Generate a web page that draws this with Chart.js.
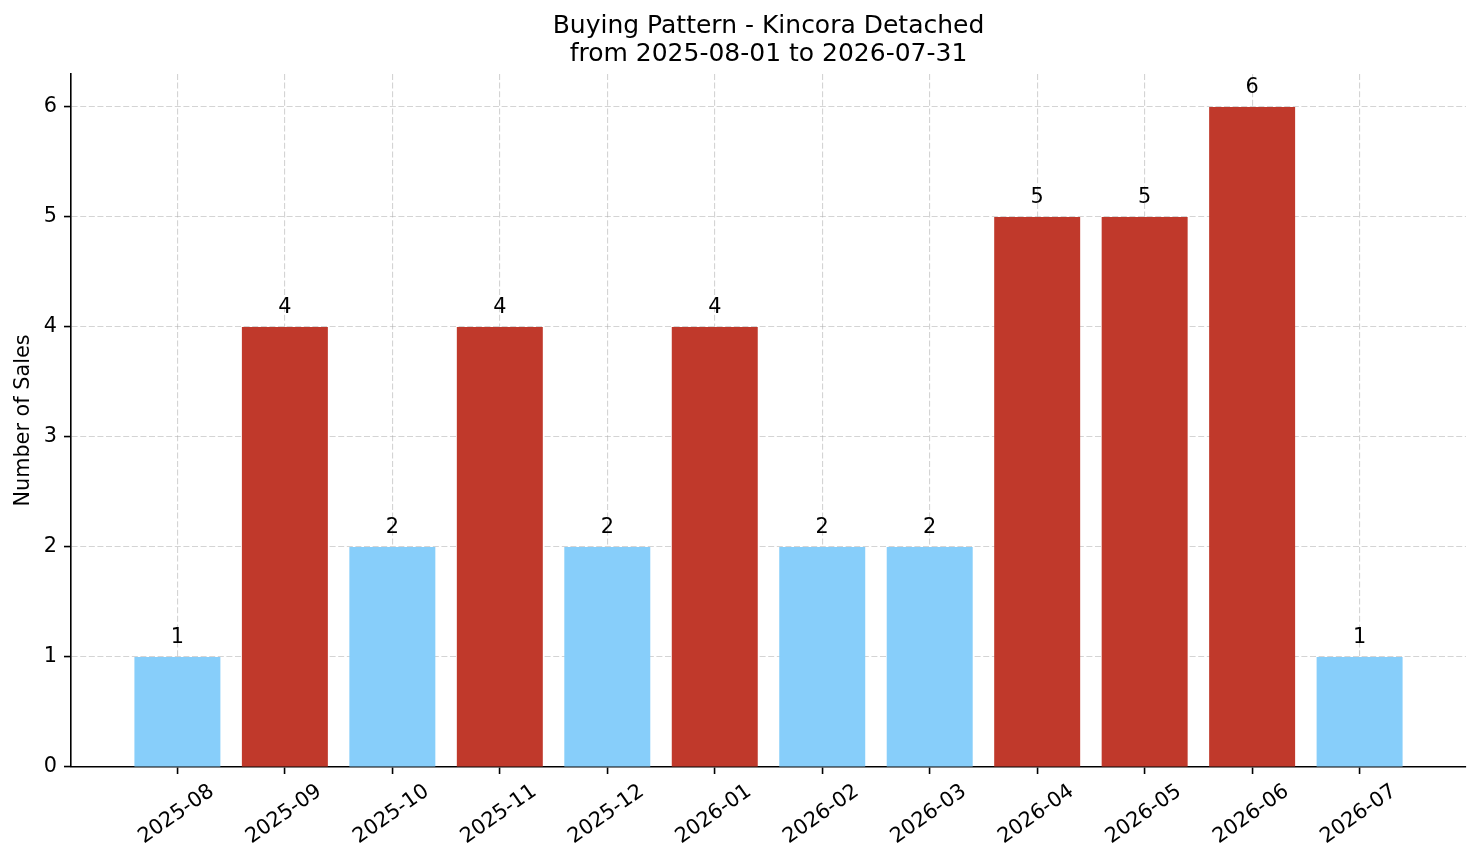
<!DOCTYPE html>
<html>
<head>
<meta charset="utf-8">
<title>Buying Pattern - Kincora Detached</title>
<script src="https://cdn.jsdelivr.net/npm/chart.js@4.4.1/dist/chart.umd.min.js"></script>
<style>
    html, body { margin: 0; padding: 0; background: #ffffff; }
    #wrap { width: 1481px; height: 863px; position: relative; }
</style>
</head>
<body>
<div id="wrap"><canvas id="grafica"></canvas></div>
<script>
// datos
const meses = ['2025-08', '2025-09', '2025-10', '2025-11', '2025-12', '2026-01',
               '2026-02', '2026-03', '2026-04', '2026-05', '2026-06', '2026-07'];
const ventas = [1, 4, 2, 4, 2, 4, 2, 2, 5, 5, 6, 1];
const ticksY = [0, 1, 2, 3, 4, 5, 6];

const titulo = ['Buying Pattern - Kincora Detached', 'from 2025-08-01 to 2026-07-31'];
const tituloY = 'Number of Sales';

const FUENTE = "'DejaVu Sans', Verdana, sans-serif";
const TAM = 20.8;
const ROJO = '#c0392b';
const AZUL = '#87cefa';
const GRIS_REJILLA = 'rgba(176,176,176,0.55)';

// por encima del promedio en rojo, el resto en azul
const promedio = ventas.reduce((a, b) => a + b, 0) / ventas.length;
const coloresBarras = ventas.map(v => v > promedio ? ROJO : AZUL);

// etiquetas de valor encima de cada barra
const etiquetasValor = {
    id: 'etiquetasValor',
    afterDraw(chart) {
        const ctx = chart.ctx;
        const meta = chart.getDatasetMeta(0);
        ctx.save();
        ctx.font = TAM + 'px ' + FUENTE;
        ctx.fillStyle = '#000';
        ctx.textAlign = 'center';
        ctx.textBaseline = 'alphabetic';
        meta.data.forEach((barra, i) => {
            ctx.fillText(String(ventas[i]), barra.x, barra.y - 14);
        });
        ctx.restore();
    }
};

// etiquetas del eje X giradas y centradas en su marca (como matplotlib)
const etiquetasX = {
    id: 'etiquetasX',
    afterDraw(chart) {
        const ctx = chart.ctx;
        const x = chart.scales.x;
        const ang = 35 * Math.PI / 180;
        ctx.save();
        ctx.font = TAM + 'px ' + FUENTE;
        ctx.fillStyle = '#000';
        ctx.textAlign = 'center';
        ctx.textBaseline = 'middle';
        meses.forEach((m, i) => {
            const L = ctx.measureText(m).width;
            const alto = L * Math.sin(ang) + TAM * Math.cos(ang);
            const cx = x.getPixelForValue(i) - 1;
            const cy = x.top + 14 + alto / 2;
            ctx.save();
            ctx.translate(cx, cy);
            ctx.rotate(-ang);
            ctx.fillText(m, 0, 0);
            ctx.restore();
        });
        ctx.restore();
    }
};

const rejilla = {
    color: GRIS_REJILLA,
    lineWidth: 1.1,
    drawTicks: true,
    tickLength: 7,
    tickColor: '#000',
    tickWidth: 1.6,
    tickBorderDash: []
};
const borde = { display: true, color: '#000', width: 1.6, dash: [6, 2.6] };

const ctx = document.getElementById('grafica').getContext('2d');
window.miGrafica = new Chart(ctx, {
    type: 'bar',
    data: {
        datasets: [{
            label: tituloY,
            data: ventas.map((v, i) => ({ x: i, y: v })),
            backgroundColor: coloresBarras,
            borderWidth: 0,
            categoryPercentage: 1.0,
            barPercentage: 0.8
        }]
    },
    options: {
        responsive: true,
        maintainAspectRatio: false,
        animation: false,
        layout: { padding: { top: 0, right: 15, bottom: 0, left: 0 } },
        plugins: {
            legend: { display: false },
            tooltip: { enabled: false },
            title: {
                display: true,
                fullSize: false,
                text: titulo,
                color: '#000',
                font: { family: FUENTE, size: 25, weight: 'normal', lineHeight: 1.12 },
                padding: { top: 12, bottom: 6 }
            }
        },
        scales: {
            x: {
                type: 'linear',
                min: -0.99,
                max: 11.99,
                offset: false,
                z: 1,
                afterBuildTicks: (s) => { s.ticks = meses.map((m, i) => ({ value: i })); },
                afterFit: (s) => { s.height = 96; },
                ticks: {
                    autoSkip: false,
                    maxRotation: 0,
                    minRotation: 0,
                    color: 'rgba(0,0,0,0)',
                    font: { size: 1 },
                    callback: (v) => meses[v] || ''
                },
                grid: Object.assign({ offset: false }, rejilla),
                border: borde
            },
            y: {
                min: 0,
                max: 6.3,
                z: 1,
                afterBuildTicks: (s) => { s.ticks = ticksY.map(v => ({ value: v })); },
                afterFit: (s) => { s.width = 71; },
                ticks: {
                    color: '#000',
                    padding: 7,
                    font: { family: FUENTE, size: TAM }
                },
                title: {
                    display: true,
                    text: tituloY,
                    color: '#000',
                    font: { family: FUENTE, size: TAM },
                    padding: { top: 11, bottom: 4 }
                },
                grid: rejilla,
                border: borde
            }
        }
    },
    plugins: [etiquetasValor, etiquetasX]
});
</script>
</body>
</html>
